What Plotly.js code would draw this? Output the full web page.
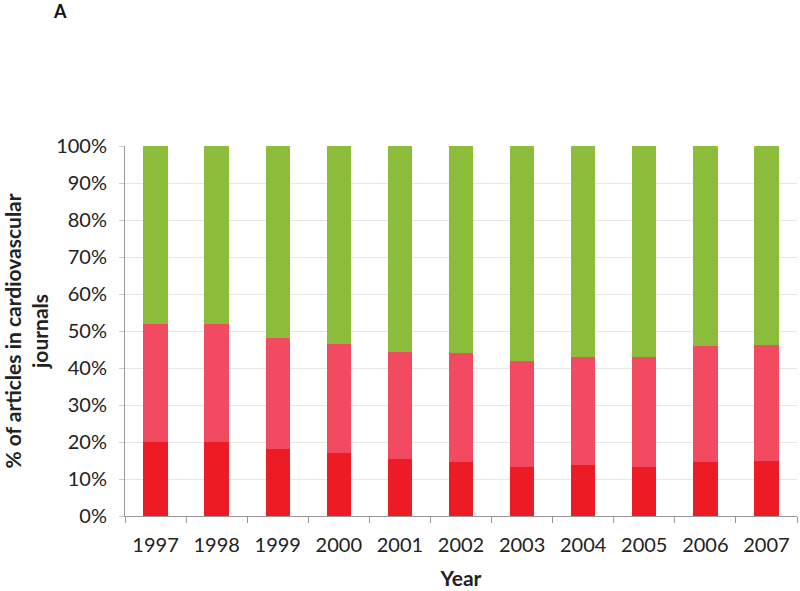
<!DOCTYPE html>
<html><head><meta charset="utf-8">
<script src="https://cdn.plot.ly/plotly-3.0.1.min.js"></script>
<style>body{margin:0;background:#fff}#chart{width:800px;height:591px}</style>
</head><body><div id="chart"></div>
<script>
const years = ['1997','1998','1999','2000','2001','2002','2003','2004','2005','2006','2007'];
// cumulative tops (%)
const redTop  = [20.0, 20.0, 18.1, 17.1, 15.4, 14.7, 13.2, 13.8, 13.3, 14.7, 14.9];
const pinkTop = [52.0, 52.0, 48.1, 46.6, 44.2, 44.0, 42.0, 42.9, 42.9, 46.0, 46.2];
const redVals = redTop;
const pinkVals = pinkTop.map((v,i)=>v-redTop[i]);
const greenVals = pinkTop.map(v=>100-v);

const common = {type:'bar', x: years, width:0.4, hoverinfo:'skip'};
const data = [
  Object.assign({}, common, {y: redVals, marker:{color:'#ED1C24'}, name:'a'}),
  Object.assign({}, common, {y: pinkVals, marker:{color:'#F24A61'}, name:'b'}),
  Object.assign({}, common, {y: greenVals, marker:{color:'#8CBD3A'}, name:'c'})
];
const font = "Lato, 'Open Sans', sans-serif";
const layout = {
  width:800, height:591,
  margin:{l:125, r:3, t:146, b:75},
  barmode:'stack',
  showlegend:false,
  paper_bgcolor:'#fff', plot_bgcolor:'#fff',
  font:{family:font, color:'#222'},
  xaxis:{type:'category', tickson:'boundaries', ticks:'outside', ticklen:6, tickcolor:'#999',
    showline:true, linecolor:'#999', linewidth:1, showgrid:false,
    ticklabelstandoff:11,
    tickfont:{size:20, color:'#222'},
    title:{text:'<b>Year</b>', font:{size:21, color:'#222'}, standoff:16}},
  yaxis:{range:[0,100], dtick:10, ticksuffix:'%', ticks:'outside', ticklen:5, tickcolor:'#ccc',
    showline:true, linecolor:'#999', linewidth:1, gridcolor:'#e6e6e6', zeroline:false,
    ticklabelstandoff:8,
    tickfont:{size:20, color:'#222'},
    title:{text:'<b>% of articles in cardiovascular<br>journals</b>', font:{size:21, color:'#222'}, standoff:6}},
  annotations:[{text:'<b>A</b>', xref:'paper', yref:'paper', x:-0.11, y:1.40, showarrow:false, font:{size:18, color:'#111'}, xanchor:'left', yanchor:'top'}]
};
Plotly.newPlot('chart', data, layout, {staticPlot:true});
</script></body></html>
